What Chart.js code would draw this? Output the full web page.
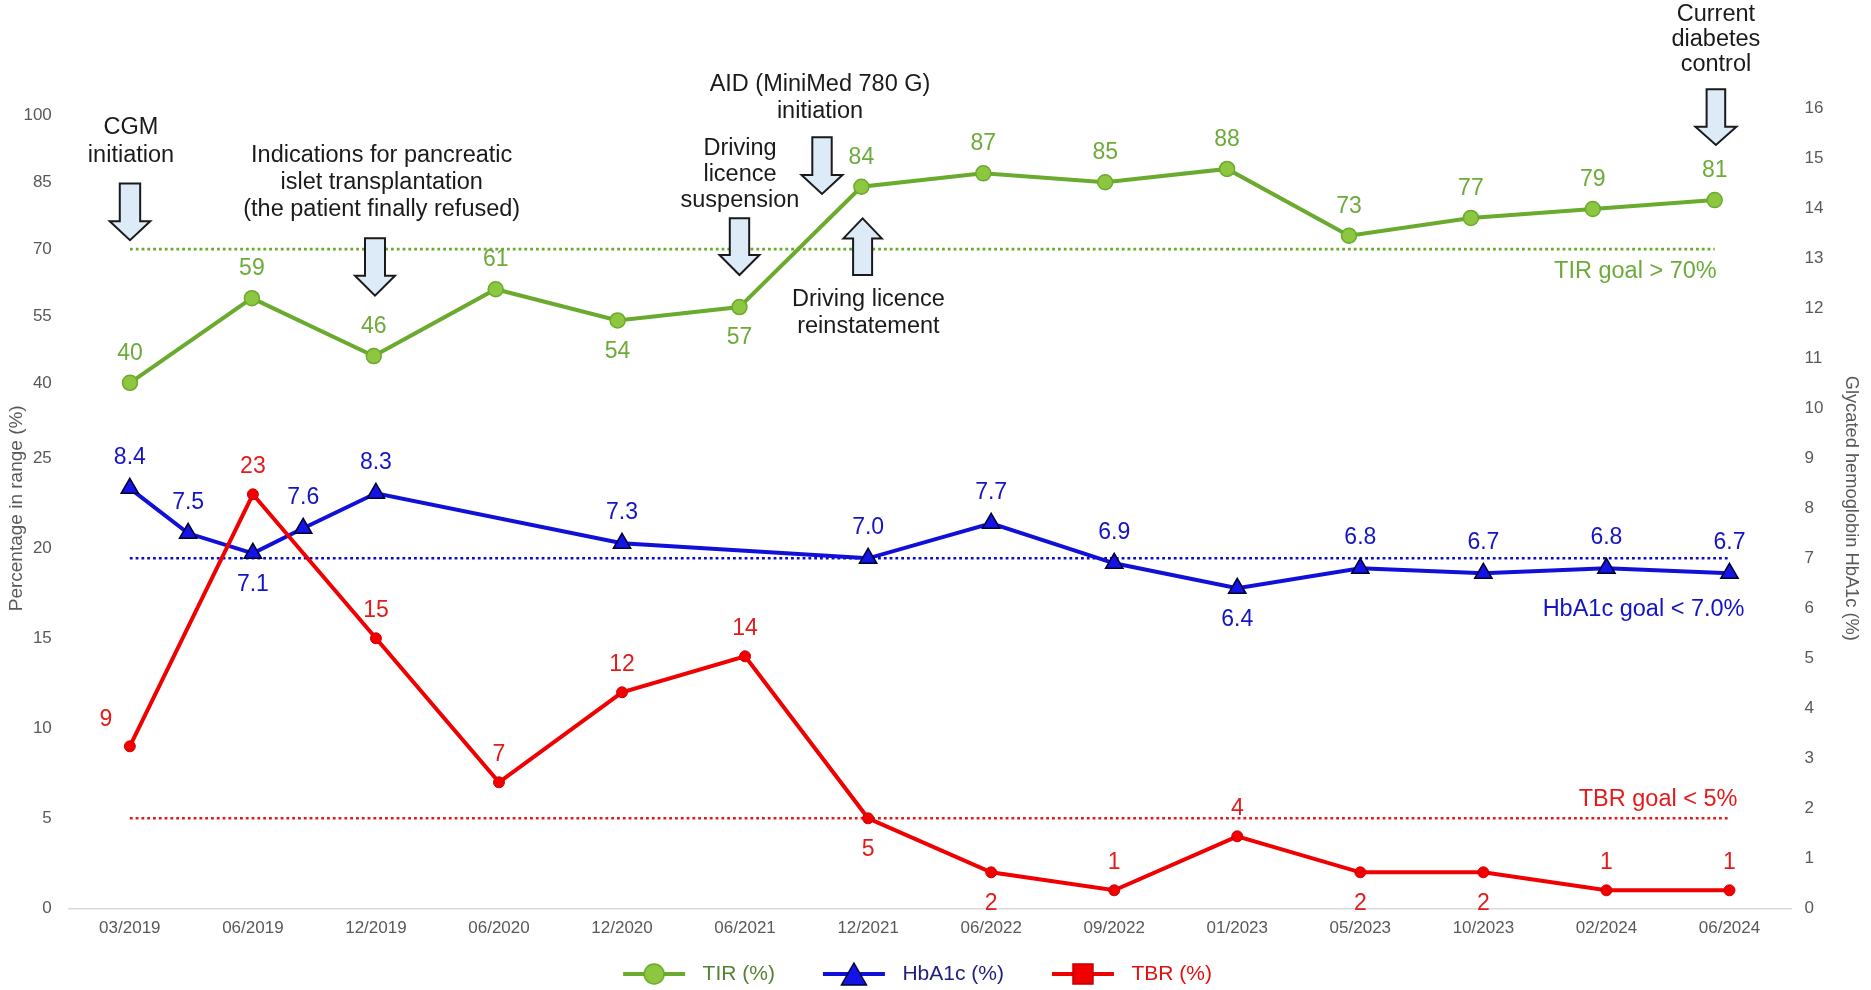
<!DOCTYPE html>
<html>
<head>
<meta charset="utf-8">
<script src="https://cdn.jsdelivr.net/npm/chart.js@4.4.1/dist/chart.umd.min.js"></script>
<style>
html,body{margin:0;padding:0;background:#ffffff;}
#wrap{width:1871px;height:990px;position:relative;}
</style>
</head>
<body>
<div id="wrap"><canvas id="c" width="1871" height="990"></canvas></div>
<script>
// ---------- data ----------
const categories = ['03/2019','06/2019','12/2019','06/2020','12/2020','06/2021','12/2021','06/2022','09/2022','01/2023','05/2023','10/2023','02/2024','06/2024'];
const tirValues = [40, 59, 46, 61, 54, 57, 84, 87, 85, 88, 73, 77, 79, 81];
const tbrValues = [9, 23, 15, 7, 12, 14, 5, 2, 1, 4, 2, 2, 1, 1];
// HbA1c has two extra measurements between the dated visits
const hba1cPositions = [0, 0.474, 1, 1.409, 2, 4, 6, 7, 8, 9, 10, 11, 12, 13];
const hba1cValues = [8.4, 7.5, 7.1, 7.6, 8.3, 7.3, 7.0, 7.7, 6.9, 6.4, 6.8, 6.7, 6.8, 6.7];
const tirTicks = [40, 55, 70, 85, 100];
const tbrTicks = [0, 5, 10, 15, 20, 25];
const hba1cTicks = [0,1,2,3,4,5,6,7,8,9,10,11,12,13,14,15,16];
const tirGoal = 70;
const hba1cGoal = 7.0;
const tbrGoal = 5;

// label placement (style, not data)
const tirLabelSide = ['a','a','a','a','b','b','a','a','a','a','a','a','a','a'];
const hba1cLabelSide = ['a','a','b','a','a','a','a','a','a','b','a','a','a','a'];
const tbrLabelSide = ['l','a','a','a','a','a','b','b','a','a','b','b','a','a'];

// ---------- layout / style ----------
const FONT = "'Liberation Sans', Arial, Helvetica, sans-serif";
const PLOT = {left: 68.3, top: 108.3, right: 1791, bottom: 908.3};
// broken left axis: TIR occupies the upper part, TBR the lower part of the same plot height
const TIR_MIN = -77.9, TIR_MAX = 101.6;
const TBR_MIN = 0, TBR_MAX = (PLOT.bottom - PLOT.top) / 18;
const leftAxisTicks = tbrTicks.map(v => ({value: v, label: String(v)})).concat(
  tirTicks.map(v => ({value: TBR_MIN + (v - TIR_MIN) / (TIR_MAX - TIR_MIN) * (TBR_MAX - TBR_MIN), label: String(v)}))
);

Chart.defaults.font.family = FONT;
Chart.defaults.color = '#595959';

const C = {
  tirLine: '#6AAA2E', tirFill: '#8DC63F', tirText: '#6CAB3A', tirLegend: '#548235',
  hbLine: '#1010D8', hbFill: '#1414E6', hbText: '#1414C4', hbLegend: '#1F1F80',
  tbrLine: '#F00000', tbrFill: '#F00000', tbrText: '#E31B1B', tbrLegend: '#E01010',
  arrowFill: '#DCEBF7', ink: '#1a1a1a'
};

function makeIcon(kind, lineColor, fill, stroke) {
  const c = document.createElement('canvas');
  c.width = 107; c.height = 30;
  const g = c.getContext('2d');
  g.strokeStyle = lineColor; g.lineWidth = 4;
  g.beginPath(); g.moveTo(38, 15); g.lineTo(100, 15); g.stroke();
  g.fillStyle = fill; g.strokeStyle = stroke; g.lineWidth = 1.5;
  g.beginPath();
  if (kind === 'circle') g.arc(69, 15, 10, 0, Math.PI * 2);
  else if (kind === 'triangle') { g.moveTo(69, 4); g.lineTo(81.5, 26); g.lineTo(56.5, 26); g.closePath(); }
  else g.rect(59, 5, 20, 20);
  g.fill(); g.stroke();
  return c;
}

const legendSpec = [
  {text: 'TIR (%)', color: C.tirLegend, icon: makeIcon('circle', C.tirLine, C.tirFill, C.tirLine), ds: 0},
  {text: 'HbA1c (%)', color: C.hbLegend, icon: makeIcon('triangle', C.hbLine, C.hbFill, '#000030'), ds: 1},
  {text: 'TBR (%)', color: C.tbrLegend, icon: makeIcon('square', C.tbrLine, C.tbrFill, '#C00000'), ds: 2}
];

const annotationSpec = [
  {x: 0, v: 72.0, dir: 'down', len: 56.7, head: 19, hw: 10.2, HW: 20.3, lines: ['CGM', 'initiation'], dx: 1, dy: -112.4, lh: 27.7},
  {x: 2.01, v: 59.55, dir: 'down', len: 57.4, head: 20, hw: 10, HW: 20, lines: ['Indications for pancreatic', 'islet transplantation', '(the patient finally refused)'], dx: 6.7, dy: -140, lh: 26.7},
  {x: 5, v: 64.2, dir: 'down', len: 56.7, head: 20, hw: 9.7, HW: 20, lines: ['Driving', 'licence', 'suspension'], dx: 0.5, dy: -126.7, lh: 26.2},
  {x: 5.677, v: 82.37, dir: 'down', len: 56.7, head: 19, hw: 9.7, HW: 20.5, lines: ['AID (MiniMed 780 G)', 'initiation'], dx: -2, dy: -109, lh: 26.7},
  {x: 6.01, v: 76.9, dir: 'up', len: 56.7, head: 20, hw: 9.5, HW: 19.2, lines: ['Driving licence', 'reinstatement'], dx: 5.8, dy: 81, lh: 26.7},
  {x: 13.01, v: 93.37, dir: 'down', len: 55.7, head: 18.3, hw: 9.3, HW: 20.5, lines: ['Current', 'diabetes', 'control'], dx: 0, dy: -130, lh: 25}
];

const goalLabelSpec = [
  {ds: 3, text: 'TIR goal > ' + tirGoal + '%', color: C.tirText, dx: 2, dy: 22.6},
  {ds: 4, text: 'HbA1c goal < ' + hba1cGoal.toFixed(1) + '%', color: C.hbText, dx: 15, dy: 51.7},
  {ds: 5, text: 'TBR goal < ' + tbrGoal + '%', color: C.tbrText, dx: 8, dy: -19}
];

function drawArrow(ctx, cx, tipY, a) {
  const s = a.dir === 'down' ? 1 : -1;
  const baseY = tipY - s * a.len, headY = tipY - s * a.head;
  ctx.beginPath();
  ctx.moveTo(cx - a.hw, baseY);
  ctx.lineTo(cx + a.hw, baseY);
  ctx.lineTo(cx + a.hw, headY);
  ctx.lineTo(cx + a.HW, headY);
  ctx.lineTo(cx, tipY);
  ctx.lineTo(cx - a.HW, headY);
  ctx.lineTo(cx - a.hw, headY);
  ctx.closePath();
  ctx.fillStyle = C.arrowFill; ctx.fill();
  ctx.lineWidth = 2; ctx.strokeStyle = C.ink; ctx.lineJoin = 'miter'; ctx.stroke();
}

const overlayPlugin = {
  id: 'overlay',
  afterDatasetsDraw(chart) {
    const ctx = chart.ctx;
    const xT = chart.scales.xT, yT = chart.scales.yTIR;
    ctx.save();
    annotationSpec.forEach(a => {
      const cx = xT.getPixelForValue(a.x);
      const tip = yT.getPixelForValue(a.v);
      drawArrow(ctx, cx, tip, a);
      ctx.font = '23.5px ' + FONT;
      ctx.fillStyle = C.ink; ctx.textAlign = 'center'; ctx.textBaseline = 'middle';
      a.lines.forEach((t, k) => ctx.fillText(t, cx + a.dx, tip + a.dy + k * a.lh));
    });
    ctx.font = '23.5px ' + FONT;
    ctx.textAlign = 'right'; ctx.textBaseline = 'middle';
    goalLabelSpec.forEach(g => {
      const pts = chart.getDatasetMeta(g.ds).data;
      const end = pts[pts.length - 1];
      ctx.fillStyle = g.color;
      ctx.fillText(g.text, end.x + g.dx, end.y + g.dy);
    });
    const specs = [
      {ds: 0, values: tirValues, side: tirLabelSide, fmt: v => String(v), color: C.tirText, up: 29.5, down: 31},
      {ds: 1, values: hba1cValues, side: hba1cLabelSide, fmt: v => v.toFixed(1), color: C.hbText, up: 31, down: 31},
      {ds: 2, values: tbrValues, side: tbrLabelSide, fmt: v => String(v), color: C.tbrText, up: 28, down: 31}
    ];
    ctx.font = '23px ' + FONT;
    ctx.textAlign = 'center';
    specs.forEach(s => {
      const meta = chart.getDatasetMeta(s.ds);
      meta.data.forEach((pt, i) => {
        let x = pt.x, y = pt.y;
        const side = s.side[i];
        if (side === 'a') y -= s.up;
        else if (side === 'b') y += s.down;
        else { x -= 24; y -= 27; }
        ctx.fillStyle = s.color;
        ctx.fillText(s.fmt(s.values[i]), x, y);
      });
    });
    ctx.restore();
  }
};

const legendShift = {
  id: 'legendShift',
  afterLayout(chart) {
    const lg = chart.legend;
    if (!lg) return;
    lg.left -= 37; lg.right -= 37;
    lg.top += 4.5; lg.bottom += 4.5;
  }
};

const goalStyle = {borderWidth: 2.6, borderDash: [2.8, 3], pointRadius: 0, order: 3, fill: false};
const noGrid = {display: false, drawTicks: false};

new Chart(document.getElementById('c'), {
  type: 'line',
  data: {
    labels: categories,
    datasets: [
      {label: 'TIR (%)', data: tirValues.map((v, i) => ({x: i, y: v})), xAxisID: 'xT', yAxisID: 'yTIR',
       borderColor: C.tirLine, borderWidth: 4, pointRadius: 7.5, pointBackgroundColor: C.tirFill,
       pointBorderColor: C.tirLine, pointBorderWidth: 1.5, order: 0},
      {label: 'HbA1c (%)', data: hba1cPositions.map((x, i) => ({x: x, y: hba1cValues[i]})), xAxisID: 'xH', yAxisID: 'yH',
       borderColor: C.hbLine, borderWidth: 4, pointStyle: 'triangle', pointRadius: 10, pointBackgroundColor: C.hbFill,
       pointBorderColor: '#000030', pointBorderWidth: 1.5, order: 2},
      {label: 'TBR (%)', data: tbrValues, xAxisID: 'x', yAxisID: 'yTBR',
       borderColor: C.tbrLine, borderWidth: 4, pointRadius: 5.5, pointBackgroundColor: C.tbrFill,
       pointBorderColor: '#D00000', pointBorderWidth: 1, order: 1},
      Object.assign({label: 'TIR goal', data: [{x: 0, y: tirGoal}, {x: categories.length - 1, y: tirGoal}],
       xAxisID: 'xT', yAxisID: 'yTIR', borderColor: C.tirLine}, goalStyle),
      Object.assign({label: 'HbA1c goal', data: [{x: 0, y: hba1cGoal}, {x: categories.length - 1, y: hba1cGoal}],
       xAxisID: 'xH', yAxisID: 'yH', borderColor: '#0A0ACC'}, goalStyle),
      Object.assign({label: 'TBR goal', data: [{x: 0, y: tbrGoal}, {x: categories.length - 1, y: tbrGoal}],
       xAxisID: 'xH', yAxisID: 'yTBR', borderColor: '#E01B1B'}, goalStyle)
    ]
  },
  options: {
    responsive: false,
    animation: false,
    devicePixelRatio: 1,
    layout: {padding: {top: PLOT.top, left: 0, right: 0, bottom: 0}},
    plugins: {
      tooltip: {enabled: false},
      legend: {
        position: 'bottom',
        labels: {
          usePointStyle: true,
          pointStyleWidth: 107,
          padding: 10,
          font: {size: 21, family: FONT},
          generateLabels: () => legendSpec.map(l => ({
            text: l.text, fontColor: l.color, pointStyle: l.icon, datasetIndex: l.ds,
            hidden: false, lineWidth: 0, fillStyle: 'rgba(0,0,0,0)', strokeStyle: 'rgba(0,0,0,0)'
          }))
        }
      }
    },
    scales: {
      x: {
        type: 'category', position: 'bottom', offset: true,
        grid: noGrid,
        border: {display: true, color: '#D9D9D9', width: 1.5},
        ticks: {color: '#595959', font: {size: 17}, padding: 10, maxRotation: 0, autoSkip: false},
        afterFit: s => { s.height = s.chart.height - s.chart.legend.height - PLOT.bottom; }
      },
      xT: {type: 'linear', display: false, min: -0.506, max: 13.626},
      xH: {type: 'linear', display: false, min: -0.5, max: 13.5},
      yTIR: {type: 'linear', display: false, position: 'left', min: TIR_MIN, max: TIR_MAX},
      yTBR: {
        type: 'linear', position: 'left', min: TBR_MIN, max: TBR_MAX,
        grid: noGrid, border: {display: false},
        ticks: {color: '#595959', font: {size: 17}, padding: 16.5, autoSkip: false,
                callback: (value, index) => leftAxisTicks[index].label},
        afterBuildTicks: s => { s.ticks = leftAxisTicks.map(t => ({value: t.value})); },
        title: {display: true, text: 'Percentage in range (%)', color: '#595959', font: {size: 19}, padding: {top: 5.6, bottom: 0}},
        afterFit: s => { s.width = PLOT.left; }
      },
      yH: {
        type: 'linear', position: 'right', min: 0, max: 16,
        grid: noGrid, border: {display: false},
        ticks: {color: '#595959', font: {size: 17}, padding: 13.5, autoSkip: false},
        afterBuildTicks: s => { s.ticks = hba1cTicks.map(v => ({value: v})); },
        title: {display: true, text: 'Glycated hemoglobin HbA1c (%)', color: '#595959', font: {size: 18.3}, padding: {top: 9, bottom: 0}},
        afterFit: s => { s.width = 1871 - PLOT.right; }
      }
    }
  },
  plugins: [overlayPlugin, legendShift]
});
</script>
</body>
</html>
